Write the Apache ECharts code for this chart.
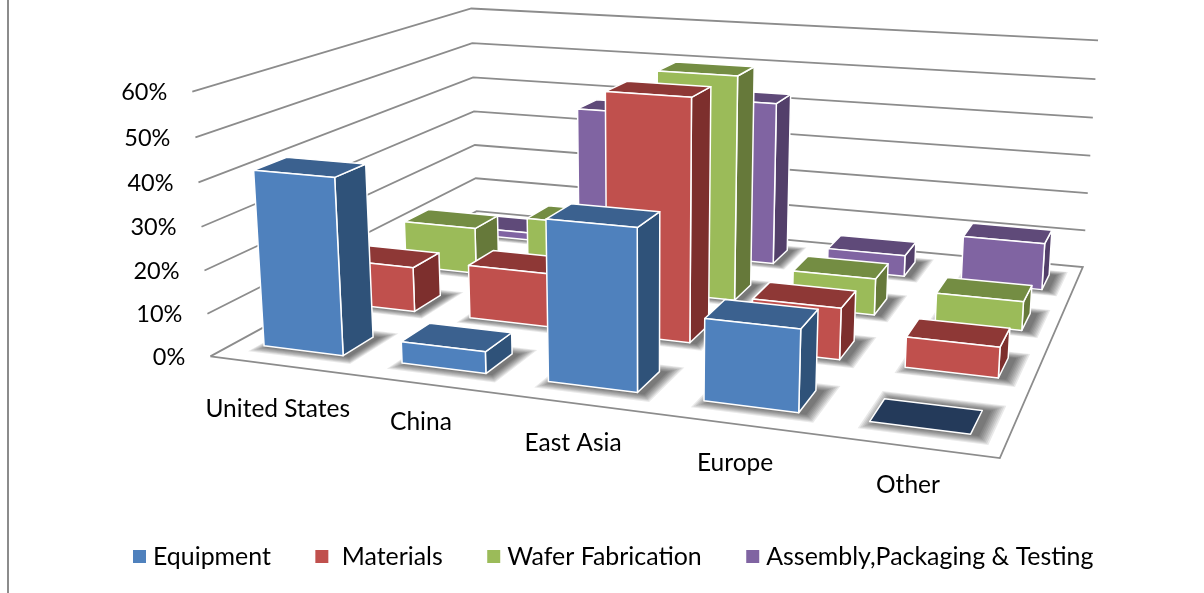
<!DOCTYPE html>
<html><head><meta charset="utf-8">
<style>html,body{margin:0;padding:0;background:#fff}#c{width:1204px;height:593px}</style>
<script src="https://cdn.jsdelivr.net/npm/echarts@6/dist/echarts.min.js"></script>
</head><body><div id="c"></div>
<script>
// ---- data ----
const categories = ['United States','China','East Asia','Europe','Other'];
const yTicks = [0,10,20,30,40,50,60];
const equipment = [41,5,36,18,0];
const materials = [11,13,57,12,7];
const waferFab  = [12,16,56,9,7];
const assembly  = [2,38,43,5.5,12];
const seriesNames = ['Equipment',' Materials','Wafer Fabrication','Assembly,Packaging & Testing'];
const seriesValues = [equipment, materials, waferFab, assembly];
const faceColors = ['#4F81BD','#C0504D','#9BBB59','#8064A2'];
const topColors  = ['#3B618F','#8E3836','#748D43','#5F4A79'];
const sideColors = ['#2F5279','#7D2F2D','#66793A','#533F6A'];
const zeroColor = '#243A5A';

// ---- camera calibration: box corners (u,v,w) seen on the page ----
const calib = [
 [0,0,0,210,356],[1,0,0,1000,458],[0,1,0,476,211],[1,1,0,1083,267],
 [0,0,1,192,92],[0,1,1,471,8],[1,1,1,1098,40],
 [0,0,.5,202,227],[0,1,.5,475,112],[1,1,.5,1090,156]
];
function solve(A,b){const n=b.length;const M=A.map((r,i)=>r.concat(b[i]));
 for(let i=0;i<n;i++){let p=i;for(let r=i+1;r<n;r++)if(Math.abs(M[r][i])>Math.abs(M[p][i]))p=r;
  [M[i],M[p]]=[M[p],M[i]];
  for(let r=0;r<n;r++){if(r===i)continue;const f=M[r][i]/M[i][i];for(let c=i;c<=n;c++)M[r][c]-=f*M[i][c];}}
 return M.map((r,i)=>r[n]/r[i]);}
const cam=(function(){const rows=[],rhs=[];
 calib.forEach(([u,v,w,x,y])=>{x/=1000;y/=1000;
  rows.push([u,v,w,1,0,0,0,0,-x*u,-x*v,-x*w]);rhs.push(x);
  rows.push([0,0,0,0,u,v,w,1,-y*u,-y*v,-y*w]);rhs.push(y);});
 const n=11,A=[],b=[];
 for(let i=0;i<n;i++){A.push([]);let s=0;for(let j=0;j<n;j++){let t=0;rows.forEach(r=>t+=r[i]*r[j]);A[i].push(t);}
  rows.forEach((r,k)=>s+=r[i]*rhs[k]);b.push(s);}
 return solve(A,b);})();
function P(u,v,w){const d=cam[8]*u+cam[9]*v+cam[10]*w+1;
 return [1000*(cam[0]*u+cam[1]*v+cam[2]*w+cam[3])/d,1000*(cam[4]*u+cam[5]*v+cam[6]*w+cam[7])/d];}

// ---- hidden grid supplies the scales; its pixels are normalised to u and w ----
const G={w:1000,h:500};
function norm(api,cat,val){const c=api.coord([cat,val]);return {u:c[0]/G.w,w:(G.h-c[1])/G.h};}
const halfW=0.058, halfD=0.05;
const shadowLayers=[.016,.014,.012,.010,.008,.006,.004,.002], shadowShiftU=.008;
const rowV=r=>(r+.5)/4;
const edge={stroke:'#fff',lineWidth:1.5,lineJoin:'round'};
const catLabelDy=[44,38,40,39,39];

function barRender(row){return function(params,api){
 const cat=api.value(0),val=api.value(1),n=norm(api,cat,val);
 const u0=n.u-halfW,u1=n.u+halfW,v=rowV(row),v0=v-halfD,v1=v+halfD,z=n.w;
 const poly=(pts,fill)=>({type:'polygon',shape:{points:pts},style:Object.assign({fill},edge)});
 if(val===0)return {type:'group',children:[poly([P(u0,v0,0),P(u1,v0,0),P(u1,v1,0),P(u0,v1,0)],zeroColor)]};
 return {type:'group',children:[
  poly([P(u1,v0,0),P(u1,v1,0),P(u1,v1,z),P(u1,v0,z)],sideColors[row]),
  poly([P(u0,v0,z),P(u1,v0,z),P(u1,v1,z),P(u0,v1,z)],topColors[row]),
  poly([P(u0,v0,0),P(u1,v0,0),P(u1,v0,z),P(u0,v0,z)],faceColors[row])
 ]};
};}

const shadowData=[];
for(let r=3;r>=0;r--)seriesValues[r].forEach((_,i)=>shadowData.push([i,0,r]));

const wallSeries={type:'custom',name:'walls',silent:true,z:1,data:yTicks.map(t=>[0,t]),
 renderItem(params,api){const w=norm(api,0,api.value(1)).w;
  const pts=w===0?[P(0,0,0),P(0,1,0),P(1,1,0),P(1,0,0),P(0,0,0)]:[P(0,0,w),P(0,1,w),P(1,1,w)];
  return {type:'polyline',shape:{points:pts},style:{stroke:'#8C8C8C',lineWidth:1.8,fill:null}};}};
const yLabelSeries={type:'custom',name:'yLabels',silent:true,z:2,data:yTicks.map(t=>[0,t]),
 renderItem(params,api){const t=api.value(1),w=norm(api,0,t).w,p=P(0,0,w);
  return {type:'text',x:p[0]-25,y:p[1]+1,style:{text:t+'%',font:'23.5px Lato',fill:'#000',align:'right',verticalAlign:'middle'}};}};
const catLabelSeries={type:'custom',name:'catLabels',silent:true,z:2,data:categories.map((c,i)=>[i,0]),
 renderItem(params,api){const i=api.value(0),n=norm(api,i,0),p=P(n.u,0,0);
  return {type:'text',x:p[0]-1,y:p[1]+catLabelDy[i],style:{text:categories[i],font:'24.5px Lato',fill:'#000',align:'center',verticalAlign:'middle'}};}};
const shadowSeries={type:'custom',name:'shadows',silent:true,z:3,data:shadowData,
 renderItem(params,api){const cat=api.value(0),r=api.value(2),u=norm(api,cat,0).u+shadowShiftU,v=rowV(r);
  return {type:'group',children:shadowLayers.map(g=>{const hw=halfW+g,hd=halfD+2*g;
   return {type:'polygon',shape:{points:[P(u-hw,v-hd,0),P(u+hw,v-hd,0),P(u+hw,v+hd,0),P(u-hw,v+hd,0)]},
    style:{fill:'rgba(0,0,0,.085)'}};})};}};
const barSeries=seriesNames.map((name,r)=>({type:'custom',name,z:10-r,itemStyle:{color:faceColors[r]},
 data:seriesValues[r].map((v,i)=>[i,v]),renderItem:barRender(r)}));

const chart=echarts.init(document.getElementById('c'),null,{renderer:'canvas'});
chart.setOption({animation:false,backgroundColor:'#fff',
 grid:{left:0,top:0,width:G.w,height:G.h},
 xAxis:{type:'category',data:categories,show:false},
 yAxis:{type:'value',min:0,max:60,interval:10,show:false},
 legend:{data:seriesNames,left:128,top:539,icon:'rect',itemWidth:13,itemHeight:13,itemGap:44.5,
  textStyle:{fontFamily:'Lato',fontSize:24.9,color:'#000',padding:[0,0,0,2]}},
 graphic:[{type:'line',shape:{x1:8,y1:0,x2:8,y2:593},style:{stroke:'#8C8C8C',lineWidth:2}}],
 series:[wallSeries,yLabelSeries,catLabelSeries,shadowSeries].concat(barSeries)});
</script></body></html>
